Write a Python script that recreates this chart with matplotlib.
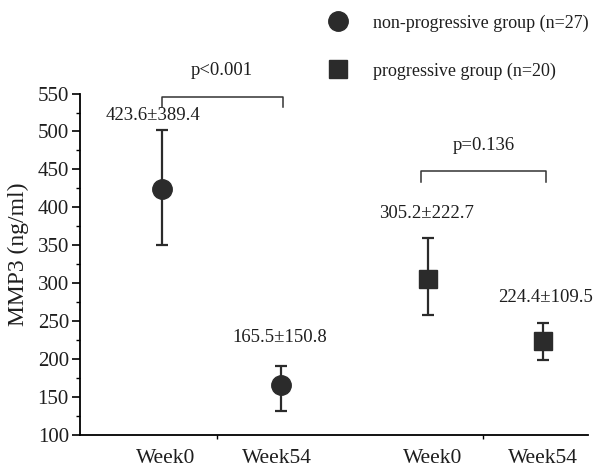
import matplotlib
matplotlib.use("Agg")
import matplotlib.pyplot as plt
from matplotlib.lines import Line2D

plt.rcParams['font.family'] = ['Liberation Serif', 'DejaVu Serif']

# Data
groups = ["non-progressive group (n=27)", "progressive group (n=20)"]
tick_labels = ["Week0", "Week54", "Week0", "Week54"]
means = [423.6, 165.5, 305.2, 224.4]
bar_top = [502, 191, 360, 248]
bar_bottom = [351, 132, 258, 199]
value_labels = ["423.6±389.4", "165.5±150.8", "305.2±222.7", "224.4±109.5"]
p_labels = ["p<0.001", "p=0.136"]

# layout (positions)
x_pts = [0.815, 2.005, 3.48, 4.63]
x_lbl = [0.86, 1.97, 3.53, 4.63]
x_val = [0.725, 2.0, 3.47, 4.66]
y_val = [521, 228, 392, 281]
group_ticks = [1.37, 4.03]
markers = ['o', 's']
msizes = [14, 12.5]
color = '#2b2b2b'
txtc = '#1e1e1e'

fig = plt.figure(figsize=(5.99, 4.72), dpi=100)
ax = fig.add_axes([0.1336, 0.0784, 0.848, 0.7234])

for gi in range(2):
    for i in (2 * gi, 2 * gi + 1):
        lo = means[i] - bar_bottom[i]
        hi = bar_top[i] - means[i]
        ax.errorbar([x_pts[i]], [means[i]], yerr=[[lo], [hi]], fmt=markers[gi],
                    ms=msizes[gi], color=color, ecolor=color, elinewidth=1.6,
                    capsize=4, capthick=1.6, zorder=3)
        ax.text(x_val[i], y_val[i], value_labels[i], ha='center', va='center',
                fontsize=13.5, color=txtc)

# significance brackets
br = [(x_pts[0], x_pts[1] + 0.02, 546, 532), (x_pts[2] - 0.07, x_pts[3] + 0.03, 448, 434)]
for (x0, x1, ytop, yend), p in zip(br, p_labels):
    ax.plot([x0, x0, x1, x1], [yend, ytop, ytop, yend], color='#333333', lw=1.1,
            clip_on=False)
    ax.text((x0 + x1) / 2, ytop + 34, p, ha='center', va='center', fontsize=13.5,
            color=txtc, clip_on=False)

ax.set_xlim(0, 5.08)
ax.set_ylim(100, 550)
ax.set_yticks(range(100, 551, 50))
ax.set_yticks(range(125, 550, 50), minor=True)
ax.set_xticks(x_lbl)
ax.set_xticklabels(tick_labels, fontsize=15.5)
ax.set_xticks(group_ticks, minor=True)
ax.tick_params(axis='x', which='major', length=0, pad=10, colors=txtc)
ax.tick_params(axis='x', which='minor', length=3, direction='out', width=1)
ax.tick_params(axis='y', which='major', length=6, width=1.2, labelsize=15, pad=2,
               labelcolor=txtc)
ax.tick_params(axis='y', which='minor', length=3, width=1)
ax.spines['top'].set_visible(False)
ax.spines['right'].set_visible(False)
ax.spines['left'].set_linewidth(1.3)
ax.spines['bottom'].set_linewidth(1.3)
ax.set_ylabel("MMP3 (ng/ml)", fontsize=17, color=txtc)
ax.yaxis.set_label_coords(-0.1, 0.53)

handles = [Line2D([], [], marker=markers[g], ls='none', color=color, ms=msizes[g])
           for g in range(2)]
fig.legend(handles, groups, loc='upper left', bbox_to_anchor=(0.5225, 0.985),
           frameon=False, fontsize=13, labelspacing=1.7, handletextpad=0.9,
           handlelength=2.0, borderaxespad=0.0, labelcolor=txtc)

fig.savefig("out.png", dpi=100)
